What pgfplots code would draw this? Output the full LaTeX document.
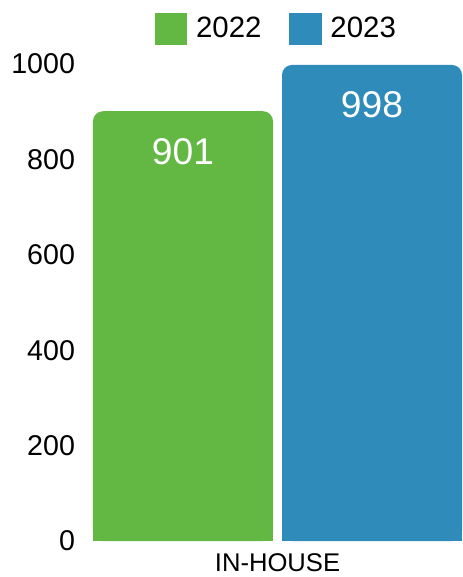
\documentclass[border=0pt]{standalone}
\usepackage{pgfplots}
\pgfplotsset{compat=1.18}
\usepackage{fontspec}
\setmainfont{Liberation Sans}
\definecolor{g22}{HTML}{62B843}
\definecolor{b23}{HTML}{2E8BBA}

\begin{document}
\begin{tikzpicture}
\useasboundingbox (0,0) rectangle (231pt,288.5pt);
\begin{axis}[
  at={(46.5pt,18pt)}, anchor=south west,
  scale only axis, width=184.5pt, height=238.5pt,
  xmin=-1, xmax=1, ymin=0, ymax=1000,
  ybar, bar width=90pt,
  clip=false,
  axis line style={draw=none}, major tick length=0pt,
  xtick={0}, xticklabels={IN-HOUSE},
  ytick={0,200,400,600,800,1000},
  /pgf/number format/assume math mode=true,
  /pgf/number format/1000 sep={},
  yticklabel style={font=\fontsize{14.3}{16}\selectfont, xshift=-5.5pt},
  xticklabel style={font=\fontsize{12.8}{15}\selectfont, inner sep=0pt, yshift=-6pt},
  legend image code/.code={\fill[#1, sharp corners] (0pt,-8pt) rectangle (16pt,8pt);},
  legend columns=-1,
  legend style={draw=none, at={(0.5,1)}, anchor=south, yshift=7.5pt,
    font=\fontsize{14.7}{17}\selectfont,
    /tikz/every odd column/.append style={column sep=2.5pt},
    /tikz/every even column/.append style={column sep=12pt}},
  nodes near coords,
  every node near coord/.append style={anchor=center, yshift=-20pt,
    text=white, font=\fontsize{18.6}{21}\selectfont},
]
% square bottoms under the rounded bars
\addplot[fill=g22, draw=none, bar shift=-47.25pt, nodes near coords={}, forget plot] coordinates {(0,25)};
\addplot[fill=b23, draw=none, bar shift=47.25pt, nodes near coords={}, forget plot] coordinates {(0,25)};
% rounded bars (values)
\addplot[fill=g22, draw=none, rounded corners=5pt, bar shift=-47.25pt] coordinates {(0,901)};
\addlegendentry{2022}
\addplot[fill=b23, draw=none, rounded corners=5pt, bar shift=47.25pt] coordinates {(0,998)};
\addlegendentry{2023}
\end{axis}
\end{tikzpicture}
\end{document}
